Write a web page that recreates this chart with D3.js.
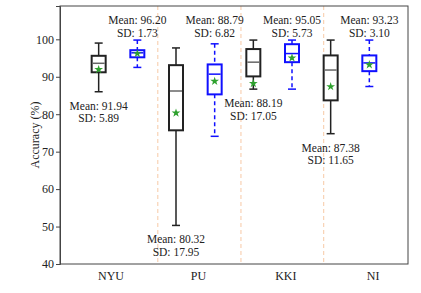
<!DOCTYPE html>
<html>
<head>
  <meta charset="utf-8">
  <style>
    body { margin: 0; background: #fff; }
  </style>
</head>
<body>
<script src="https://d3js.org/d3.v7.min.js"></script>
<script>

// sites and the two methods per site (black = first, blue = second)
var sites = ["NYU", "PU", "KKI", "NI"];
var methods = ["black", "blue"];

// box stats, per site: [black, blue]
var whiskerLow  = [[86.0, 92.5], [50.3, 74.1], [86.7, 86.7], [74.8, 87.4]];
var q1          = [[91.2, 95.2], [75.7, 85.3], [90.1, 93.9], [83.7, 91.5]];
var median      = [[93.6, 96.4], [86.2, 90.7], [93.9, 96.2], [91.8, 93.7]];
var q3          = [[95.6, 97.1], [93.1, 93.3], [97.4, 98.7], [95.7, 95.7]];
var whiskerHigh = [[99.0, 99.8], [97.7, 98.8], [99.8, 99.8], [99.8, 99.8]];
var means       = [[91.94, 96.20], [80.32, 88.79], [88.19, 95.05], [87.38, 93.23]];
var sds         = [[5.89, 1.73], [17.95, 6.82], [17.05, 5.73], [11.65, 3.10]];

var yTicks = [40, 50, 60, 70, 80, 90, 100];

var W = 421, H = 293;
var margin = {left: 60, right: 13, top: 6, bottom: 29};
var serif = "'Liberation Serif'";

var svg = d3.select("body").append("svg")
  .attr("width", W)
  .attr("height", H);

var x = d3.scaleLinear().domain([0, 9]).range([margin.left, W - margin.right]);
var y = d3.scaleLinear().domain([40, 108.9]).range([H - margin.bottom, margin.top]);

// flatten into boxes at positions 1..8
var boxes = [];
sites.forEach(function(s, i) {
  methods.forEach(function(m, j) {
    boxes.push({
      site: s, method: m, pos: i * 2 + j + 1,
      lo: whiskerLow[i][j], q1: q1[i][j], med: median[i][j],
      q3: q3[i][j], hi: whiskerHigh[i][j], mean: means[i][j], sd: sds[i][j]
    });
  });
});

// dashed separators between sites
var sepPos = [2.53, 4.68, 6.82];
svg.selectAll(".sep").data(sepPos).enter().append("line")
  .attr("x1", d => x(d)).attr("x2", d => x(d))
  .attr("y1", y.range()[1]).attr("y2", y.range()[0])
  .attr("stroke", "#f7c9a5")
  .attr("stroke-width", 1)
  .attr("stroke-dasharray", "4,3");

var boxW = 14, capW = 8;
var col = {black: "#222", blue: "#1010ff"};
var medCol = {black: "#666", blue: "#1010ff"};

var g = svg.selectAll(".box").data(boxes).enter().append("g");

// whiskers
g.append("line")
  .attr("x1", d => x(d.pos)).attr("x2", d => x(d.pos))
  .attr("y1", d => y(d.hi)).attr("y2", d => y(d.q3))
  .attr("stroke", d => col[d.method]).attr("stroke-width", 1.5)
  .attr("stroke-dasharray", d => d.method == "blue" ? "4,3" : null);
g.append("line")
  .attr("x1", d => x(d.pos)).attr("x2", d => x(d.pos))
  .attr("y1", d => y(d.q1)).attr("y2", d => y(d.lo))
  .attr("stroke", d => col[d.method]).attr("stroke-width", 1.5)
  .attr("stroke-dasharray", d => d.method == "blue" ? "4,3" : null);
// caps
["hi", "lo"].forEach(function(k) {
  g.append("line")
    .attr("x1", d => x(d.pos) - capW / 2).attr("x2", d => x(d.pos) + capW / 2)
    .attr("y1", d => y(d[k])).attr("y2", d => y(d[k]))
    .attr("stroke", d => col[d.method]).attr("stroke-width", 1.5);
});
// box
g.append("rect")
  .attr("x", d => x(d.pos) - boxW / 2)
  .attr("width", boxW)
  .attr("y", d => y(d.q3))
  .attr("height", d => y(d.q1) - y(d.q3))
  .attr("fill", "#fff")
  .attr("stroke", d => col[d.method]).attr("stroke-width", 2);
// median
g.append("line")
  .attr("x1", d => x(d.pos) - boxW / 2 + 1).attr("x2", d => x(d.pos) + boxW / 2 - 1)
  .attr("y1", d => y(d.med)).attr("y2", d => y(d.med))
  .attr("stroke", d => medCol[d.method]).attr("stroke-width", 1.5);
// mean star
g.append("path")
  .attr("d", d3.symbol().type(d3.symbolStar).size(24))
  .attr("transform", d => "translate(" + x(d.pos) + "," + y(d.mean) + ")")
  .attr("fill", "#2ea12e");

// annotations: black below its low whisker, blue at the top
g.append("text")
  .attr("text-anchor", "middle")
  .style("font-family", serif).style("font-size", "11.5px")
  .attr("fill", "#222")
  .attr("x", d => x(d.pos))
  .attr("y", d => d.method == "black" ? y(d.lo) + 18 : 24)
  .text(d => "Mean: " + d.mean.toFixed(2));
g.append("text")
  .attr("text-anchor", "middle")
  .style("font-family", serif).style("font-size", "11.5px")
  .attr("fill", "#222")
  .attr("x", d => x(d.pos))
  .attr("y", d => d.method == "black" ? y(d.lo) + 30.5 : 36.5)
  .text(d => "SD: " + d.sd.toFixed(2));

// frame
svg.append("rect")
  .attr("x", x.range()[0]).attr("y", y.range()[1])
  .attr("width", x.range()[1] - x.range()[0])
  .attr("height", y.range()[0] - y.range()[1])
  .attr("fill", "none").attr("stroke", "#444").attr("stroke-width", 1);

// y axis
var yAxis = svg.append("g")
  .attr("transform", "translate(" + x.range()[0] + ",0)")
  .call(d3.axisLeft(y).tickValues(yTicks).tickSize(4).tickPadding(2));
yAxis.select(".domain").attr("stroke", "#444");
yAxis.selectAll(".tick line").attr("stroke", "#444");
yAxis.selectAll("text").attr("fill", "#222")
  .style("font-family", serif).style("font-size", "12px");

// x labels
var labelPos = [1.32, 3.58, 5.84, 8.1];
svg.selectAll(".xl").data(sites).enter().append("text")
  .attr("x", (d, i) => x(labelPos[i]))
  .attr("y", y.range()[0] + 16)
  .attr("text-anchor", "middle")
  .style("font-family", serif).style("font-size", "12px")
  .attr("fill", "#222")
  .text(d => d);

svg.append("text")
  .attr("transform", "translate(39," + ((y.range()[0] + y.range()[1]) / 2) + ") rotate(-90)")
  .attr("text-anchor", "middle")
  .style("font-family", serif).style("font-size", "12px")
  .attr("fill", "#222")
  .text("Accuracy (%)");

</script>
</body>
</html>
